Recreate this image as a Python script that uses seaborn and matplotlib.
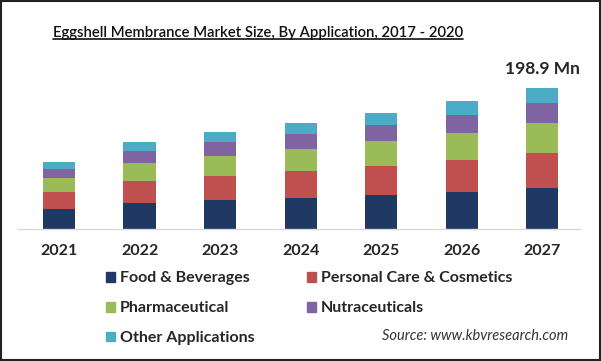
import matplotlib
matplotlib.use("Agg")
import matplotlib.pyplot as plt
import matplotlib.patches as mpatches
from matplotlib.lines import Line2D
import numpy as np
import pandas as pd
import seaborn as sns

# Data (USD Mn)
years = ["2021", "2022", "2023", "2024", "2025", "2026", "2027"]
food = [28.2, 36.6, 40.8, 44.1, 47.9, 52.1, 58.2]
personal = [23.9, 31.0, 33.8, 38.0, 41.3, 45.1, 49.3]
pharma = [20.1, 25.8, 28.2, 30.6, 34.8, 38.4, 42.2]
nutra = [12.7, 16.9, 20.1, 21.5, 22.5, 25.3, 28.2]
other = [9.9, 12.7, 13.7, 15.5, 16.9, 19.3, 21.0]
segments = ["Food & Beverages", "Personal Care & Cosmetics", "Pharmaceutical",
            "Nutraceuticals", "Other Applications"]
colors = ["#1f3864", "#c0504d", "#9bbb59", "#8064a2", "#4bacc6"]
total_label = "198.9 Mn"

sns.set_style("white")
plt.rcParams["font.family"] = ["Lato", "DejaVu Sans"]

df = pd.DataFrame({"year": years, segments[0]: food, segments[1]: personal,
                   segments[2]: pharma, segments[3]: nutra, segments[4]: other})
cum = df[segments].cumsum(axis=1)

fig = plt.figure(figsize=(6.01, 3.61), dpi=100)
W, H = 601, 361
ax = fig.add_axes([18 / W, (H - 229) / H, (580 - 18) / W, 169 / H])

# stacked bars: draw cumulative totals from the top segment down
for seg, col in reversed(list(zip(segments, colors))):
    sns.barplot(x=df["year"], y=cum[seg], color=col, saturation=1,
                width=0.4, linewidth=0, ax=ax)

ax.set_xlim(-0.51, 6.47)
ax.set_ylim(0, 238)
ax.set_xlabel("")
ax.set_ylabel("")
ax.set_yticks([])
for s in ["top", "left", "right"]:
    ax.spines[s].set_visible(False)
ax.spines["bottom"].set_color("#d9d9d9")
ax.spines["bottom"].set_linewidth(1)
ax.tick_params(axis="x", length=0, pad=11, labelsize=11.5)
for lab in ax.get_xticklabels():
    lab.set_fontweight("bold")

# total label on the last bar
ax.annotate(total_label, (6, cum[segments[-1]].iloc[-1]), xytext=(0, 8),
            textcoords="offset points", ha="center", va="bottom",
            fontsize=12.5, fontweight="bold")

# title with underline
title = fig.text(258 / W, 1 - 33 / H, "Eggshell Membrance Market Size, By Application, 2017 - 2020",
                 ha="center", va="center", fontsize=10.7, fontweight="semibold", color="#111111")
fig.canvas.draw()
bb = title.get_window_extent(fig.canvas.get_renderer()).transformed(fig.transFigure.inverted())
fig.add_artist(Line2D([bb.x0, bb.x1], [bb.y0 + 0.004, bb.y0 + 0.004],
                      transform=fig.transFigure, color="#111111", lw=1.2))

# legend (row-major order)
handles = [mpatches.Patch(color=c, label=s) for s, c in zip(segments, colors)]
order = [0, 2, 4, 1, 3]
leg = fig.legend([handles[i] for i in order], [segments[i] for i in order],
                 loc="upper left", bbox_to_anchor=(92 / W, 1 - 257 / H), ncol=2,
                 frameon=False, handlelength=0.55, handleheight=0.55,
                 handletextpad=0.3, columnspacing=3.3, labelspacing=1.0,
                 prop={"weight": "bold", "size": 11.5})

fig.text(568 / W, 1 - 336 / H, "Source: www.kbvresearch.com", ha="right", va="center",
         fontsize=10.5, style="italic", color="#333333")

# outer frame
fig.patches.append(mpatches.Rectangle((0.001, 0.002), 0.997, 0.996, transform=fig.transFigure,
                                      fill=False, edgecolor="#222222", lw=1.5))

fig.savefig("out.png", dpi=100)
